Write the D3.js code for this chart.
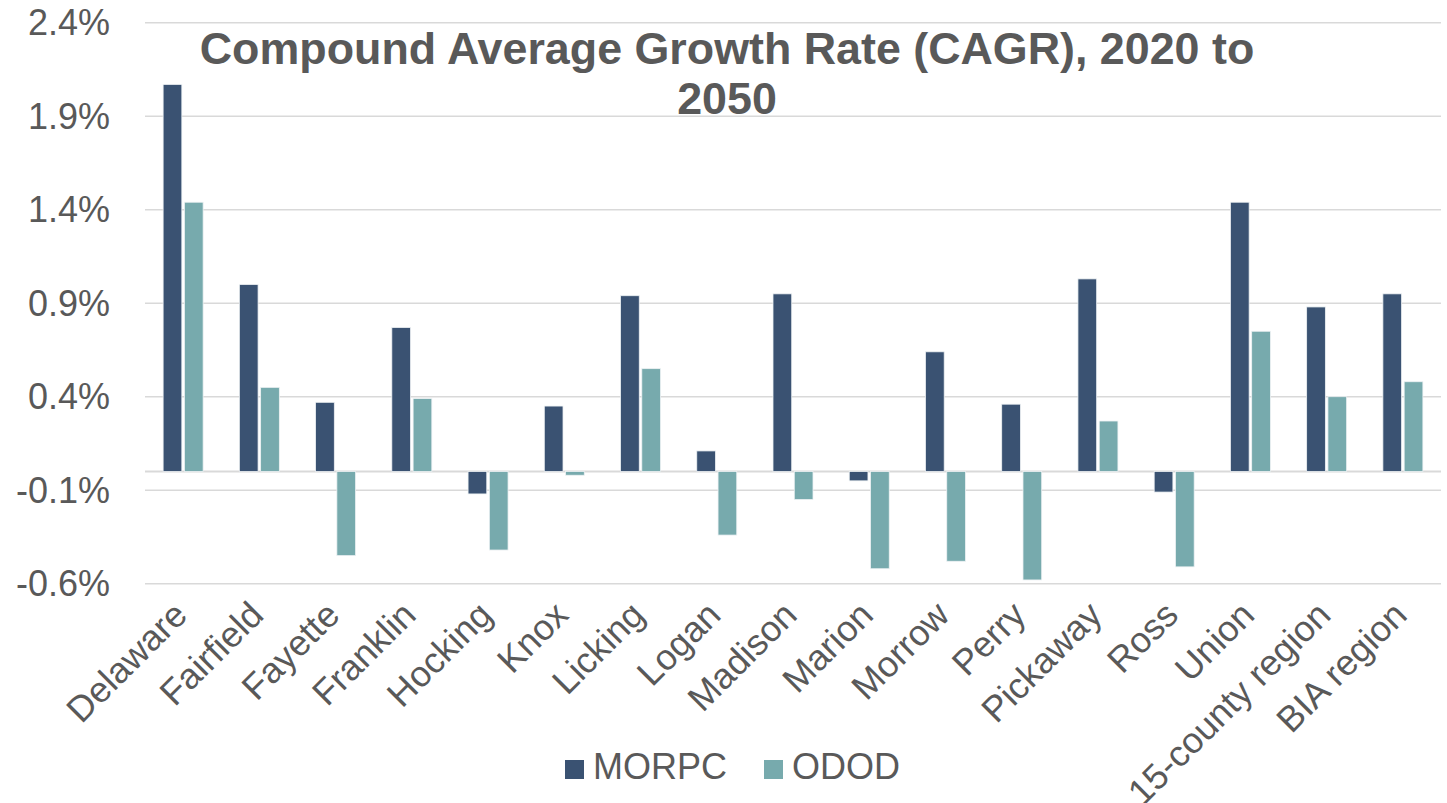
<!DOCTYPE html>
<html>
<head>
<meta charset="utf-8">
<script src="https://cdn.jsdelivr.net/npm/d3@7"></script>
<style>
  html, body { margin: 0; padding: 0; background: #fff; }
  svg text { font-family: "Liberation Sans", Arial, sans-serif; fill: #595959; }
</style>
</head>
<body>
<svg id="chart" width="1447" height="803"></svg>
<script>
// categories and the two series (CAGR in %)
var counties = ['Delaware', 'Fairfield', 'Fayette', 'Franklin', 'Hocking', 'Knox',
  'Licking', 'Logan', 'Madison', 'Marion', 'Morrow', 'Perry', 'Pickaway', 'Ross',
  'Union', '15-county region', 'BIA region'];
var morpc = [2.07, 1.00, 0.37, 0.77, -0.12, 0.35, 0.94, 0.11, 0.95, -0.05, 0.64,
  0.36, 1.03, -0.11, 1.44, 0.88, 0.95];
var odod = [1.44, 0.45, -0.45, 0.39, -0.42, -0.02, 0.55, -0.34, -0.15, -0.52, -0.48,
  -0.58, 0.27, -0.51, 0.75, 0.40, 0.48];
var seriesNames = ['MORPC', 'ODOD'];
var yTicks = [2.4, 1.9, 1.4, 0.9, 0.4, -0.1, -0.6];
var titleLines = ['Compound Average Growth Rate (CAGR), 2020 to', '2050'];

var colors = { MORPC: '#3a5272', ODOD: '#77aaad' };

var svg = d3.select('#chart');
// plot area (note: "top" is taken by window.top)
var plotLeft = 145, plotRight = 1441, plotTop = 22.7, plotBottom = 583.7;

// scales
var x = d3.scaleBand().domain(counties).range([plotLeft, plotRight]);
var inner = d3.scaleBand().domain(seriesNames)
  .range([x.bandwidth() / 2 - 20, x.bandwidth() / 2 + 20]).paddingInner(0.12);
var y = d3.scaleLinear().domain([-0.6, 2.4]).range([plotBottom, plotTop]);

// excel style labels: plain hyphen for negatives
var pct = d3.formatLocale({ decimal: '.', thousands: ',', grouping: [3],
  currency: ['', ''], minus: '-' }).format('.1f');

// gridlines
svg.append('g').selectAll('line')
  .data(yTicks)
  .enter().append('line')
  .attr('x1', plotLeft).attr('x2', plotRight)
  .attr('y1', function (d) { return y(d); })
  .attr('y2', function (d) { return y(d); })
  .attr('stroke', '#d9d9d9').attr('stroke-width', 1.5);

// y tick labels
svg.append('g').selectAll('text')
  .data(yTicks)
  .enter().append('text')
  .attr('x', 110)
  .attr('y', function (d) { return y(d); })
  .attr('dy', '0.35em')
  .attr('text-anchor', 'end')
  .style('font-size', '36px')
  .text(function (d) { return pct(d) + '%'; });

// zero line
svg.append('line')
  .attr('x1', plotLeft).attr('x2', plotRight)
  .attr('y1', y(0)).attr('y2', y(0))
  .attr('stroke', '#d9d9d9').attr('stroke-width', 2);

// bars
var rows = counties.map(function (c, i) {
  return { name: c, MORPC: morpc[i], ODOD: odod[i] };
});
var groups = svg.append('g').selectAll('g')
  .data(rows)
  .enter().append('g')
  .attr('transform', function (d) { return 'translate(' + x(d.name) + ',0)'; });

groups.selectAll('rect')
  .data(function (d) { return seriesNames.map(function (s) { return { key: s, value: d[s] }; }); })
  .enter().append('rect')
  .attr('x', function (d) { return inner(d.key); })
  .attr('width', inner.bandwidth())
  .attr('y', function (d) { return y(Math.max(0, d.value)); })
  .attr('height', function (d) { return Math.abs(y(d.value) - y(0)); })
  .attr('fill', function (d) { return colors[d.key]; })
  .attr('stroke', '#eef2f4').attr('stroke-width', 0.8);

// category labels, rotated
svg.append('g').selectAll('text')
  .data(counties)
  .enter().append('text')
  .attr('transform', function (d) {
    return 'translate(' + (x(d) + x.bandwidth() / 2 + 6) + ',617) rotate(-45)';
  })
  .attr('text-anchor', 'end')
  .style('font-size', '36px')
  .text(function (d) { return d; });

// title
svg.append('text')
  .attr('text-anchor', 'middle')
  .style('font-size', '44.8px').style('font-weight', 'bold')
  .selectAll('tspan')
  .data(titleLines)
  .enter().append('tspan')
  .attr('x', 727)
  .attr('y', function (d, i) { return 63.5 + i * 50; })
  .text(function (d) { return d; });

// legend
var legend = svg.append('g').selectAll('g')
  .data(seriesNames)
  .enter().append('g')
  .attr('transform', function (d, i) { return 'translate(' + (565 + i * 199) + ',760)'; });
legend.append('rect')
  .attr('width', 19).attr('height', 19)
  .attr('fill', function (d) { return colors[d]; });
legend.append('text')
  .attr('x', 28).attr('y', 19)
  .style('font-size', '36px')
  .text(function (d) { return d; });
</script>
</body>
</html>
